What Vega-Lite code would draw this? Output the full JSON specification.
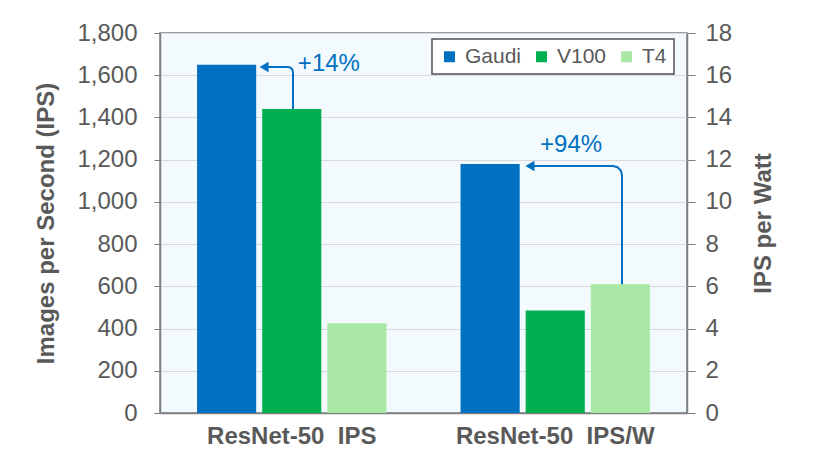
{
  "$schema": "https://vega.github.io/schema/vega-lite/v6.json",
  "width": 527,
  "height": 380,
  "autosize": {"type": "none"},
  "padding": {"left": 160, "top": 33, "right": 131, "bottom": 40},
  "background": "white",
  "config": {
    "font": "Liberation Sans",
    "view": {"fill": "#F3FAFD", "stroke": "#7F7F7F", "strokeWidth": 1.5},
    "legend": {
      "orient": "none",
      "legendX": 272,
      "legendY": 6,
      "direction": "horizontal",
      "fillColor": "white",
      "strokeColor": "#505050",
      "strokeWidth": 1.5,
      "padding": 7,
      "labelFontSize": 21,
      "labelColor": "#595959",
      "symbolType": "square",
      "symbolSize": 120,
      "symbolStrokeWidth": 0,
      "columnPadding": 9,
      "labelOffset": 5
    }
  },
  "datasets": {
    "bars": [
      {"metric": "ResNet-50 \u00a0IPS", "device": "Gaudi", "value": 1650},
      {"metric": "ResNet-50 \u00a0IPS", "device": "V100", "value": 1440},
      {"metric": "ResNet-50 \u00a0IPS", "device": "T4", "value": 425},
      {"metric": "ResNet-50 \u00a0IPS/W", "device": "Gaudi", "value": 11.8},
      {"metric": "ResNet-50 \u00a0IPS/W", "device": "V100", "value": 4.85},
      {"metric": "ResNet-50 \u00a0IPS/W", "device": "T4", "value": 6.1}
    ],
    "arrow_ips": [
      {"i": 1, "x": 0.5047, "y": 1440},
      {"i": 2, "x": 0.5047, "y": 1615},
      {"i": 3, "x": 0.5021, "y": 1627},
      {"i": 4, "x": 0.4953, "y": 1636},
      {"i": 5, "x": 0.4858, "y": 1639},
      {"i": 6, "x": 0.395, "y": 1639}
    ],
    "arrow_ipsw": [
      {"i": 1, "x": 1.7533, "y": 6.1},
      {"i": 2, "x": 1.7533, "y": 11.27},
      {"i": 3, "x": 1.7488, "y": 11.49},
      {"i": 4, "x": 1.7362, "y": 11.64},
      {"i": 5, "x": 1.7192, "y": 11.7},
      {"i": 6, "x": 1.404, "y": 11.7}
    ],
    "note_ips": [{"label": "+14%", "x": 0.641, "y": 1651}],
    "note_ipsw": [{"label": "+94%", "x": 1.56, "y": 12.7}]
  },
  "layer": [
    {
      "data": {"name": "bars"},
      "transform": [{"filter": "indexof(datum.metric, 'IPS/W') < 0"}],
      "mark": {"type": "bar"},
      "encoding": {
        "x": {
          "field": "metric",
          "type": "nominal",
          "sort": null,
          "scale": {"domain": ["ResNet-50 \u00a0IPS", "ResNet-50 \u00a0IPS/W"], "paddingInner": 0, "paddingOuter": 0},
          "axis": {
            "title": null,
            "labelAngle": 0,
            "labelFontSize": 24,
            "labelFontWeight": "bold",
            "labelColor": "#595959",
            "labelLimit": 400,
            "ticks": false,
            "domainColor": "#7F7F7F",
            "domainWidth": 1.5,
            "labelPadding": 11
          }
        },
        "xOffset": {
          "field": "device",
          "scale": {"domain": ["Gaudi", "V100", "T4"], "paddingInner": 0.092, "paddingOuter": 0.569}
        },
        "y": {
          "field": "value",
          "type": "quantitative",
          "scale": {"domain": [0, 1800]},
          "axis": {
            "title": "Images per Second (IPS)",
            "orient": "left",
            "values": [0, 200, 400, 600, 800, 1000, 1200, 1400, 1600, 1800],
            "format": ",.0f",
            "grid": true,
            "gridColor": "#D9D9D9",
            "tickSize": 6,
            "tickColor": "#7F7F7F",
            "domainColor": "#7F7F7F",
            "domainWidth": 1.5,
            "labelFontSize": 24,
            "labelColor": "#595959",
            "labelPadding": 17,
            "titleFontSize": 24,
            "titleFontWeight": "bold",
            "titleColor": "#595959",
            "titlePadding": 18
          }
        },
        "color": {
          "field": "device",
          "type": "nominal",
          "scale": {"domain": ["Gaudi", "V100", "T4"], "range": ["#0070C0", "#00B050", "#A9E9A5"]},
          "legend": {"title": null}
        }
      }
    },
    {
      "data": {"name": "bars"},
      "transform": [{"filter": "indexof(datum.metric, 'IPS/W') >= 0"}],
      "mark": {"type": "bar"},
      "encoding": {
        "x": {
          "field": "metric",
          "type": "nominal",
          "sort": null,
          "scale": {"domain": ["ResNet-50 \u00a0IPS", "ResNet-50 \u00a0IPS/W"], "paddingInner": 0, "paddingOuter": 0},
          "axis": null
        },
        "xOffset": {
          "field": "device",
          "scale": {"domain": ["Gaudi", "V100", "T4"], "paddingInner": 0.092, "paddingOuter": 0.569}
        },
        "y": {
          "field": "value",
          "type": "quantitative",
          "scale": {"domain": [0, 18]},
          "axis": {
            "title": "IPS per Watt",
            "orient": "right",
            "values": [0, 2, 4, 6, 8, 10, 12, 14, 16, 18],
            "grid": false,
            "tickSize": 8,
            "tickColor": "#7F7F7F",
            "domainColor": "#7F7F7F",
            "domainWidth": 1.5,
            "labelFontSize": 24,
            "labelColor": "#595959",
            "labelPadding": 10,
            "titleFontSize": 24,
            "titleFontWeight": "bold",
            "titleColor": "#595959",
            "titleAngle": 270,
            "titleBaseline": "top",
            "titlePadding": 20
          }
        },
        "color": {"field": "device", "type": "nominal", "legend": {"title": null}}
      }
    },
    {
      "mark": {"type": "rule", "color": "#7F7F7F", "strokeWidth": 1.2},
      "encoding": {
        "x": {"datum": 1, "type": "quantitative", "scale": {"domain": [0, 2]}, "axis": null}
      }
    },
    {
      "data": {"name": "arrow_ips"},
      "mark": {"type": "line", "color": "#0070C0", "strokeWidth": 2},
      "encoding": {
        "x": {"field": "x", "type": "quantitative", "scale": {"domain": [0, 2]}, "axis": null},
        "y": {"field": "y", "type": "quantitative", "scale": {"domain": [0, 1800]}, "axis": null},
        "order": {"field": "i"}
      }
    },
    {
      "data": {"name": "arrow_ips"},
      "transform": [{"filter": "datum.i === 6"}],
      "mark": {"type": "point", "shape": "triangle-left", "filled": true, "color": "#0070C0", "size": 110, "opacity": 1},
      "encoding": {
        "x": {"field": "x", "type": "quantitative", "scale": {"domain": [0, 2]}, "axis": null},
        "y": {"field": "y", "type": "quantitative", "scale": {"domain": [0, 1800]}, "axis": null}
      }
    },
    {
      "data": {"name": "note_ips"},
      "mark": {"type": "text", "color": "#0070C0", "fontSize": 24, "baseline": "middle", "align": "center"},
      "encoding": {
        "x": {"field": "x", "type": "quantitative", "scale": {"domain": [0, 2]}, "axis": null},
        "y": {"field": "y", "type": "quantitative", "scale": {"domain": [0, 1800]}, "axis": null},
        "text": {"field": "label"}
      }
    },
    {
      "data": {"name": "arrow_ipsw"},
      "mark": {"type": "line", "color": "#0070C0", "strokeWidth": 2},
      "encoding": {
        "x": {"field": "x", "type": "quantitative", "scale": {"domain": [0, 2]}, "axis": null},
        "y": {"field": "y", "type": "quantitative", "scale": {"domain": [0, 18]}, "axis": null},
        "order": {"field": "i"}
      }
    },
    {
      "data": {"name": "arrow_ipsw"},
      "transform": [{"filter": "datum.i === 6"}],
      "mark": {"type": "point", "shape": "triangle-left", "filled": true, "color": "#0070C0", "size": 110, "opacity": 1},
      "encoding": {
        "x": {"field": "x", "type": "quantitative", "scale": {"domain": [0, 2]}, "axis": null},
        "y": {"field": "y", "type": "quantitative", "scale": {"domain": [0, 18]}, "axis": null}
      }
    },
    {
      "data": {"name": "note_ipsw"},
      "mark": {"type": "text", "color": "#0070C0", "fontSize": 24, "baseline": "middle", "align": "center"},
      "encoding": {
        "x": {"field": "x", "type": "quantitative", "scale": {"domain": [0, 2]}, "axis": null},
        "y": {"field": "y", "type": "quantitative", "scale": {"domain": [0, 18]}, "axis": null},
        "text": {"field": "label"}
      }
    }
  ],
  "resolve": {"scale": {"x": "independent", "y": "independent", "xOffset": "independent"}}
}
